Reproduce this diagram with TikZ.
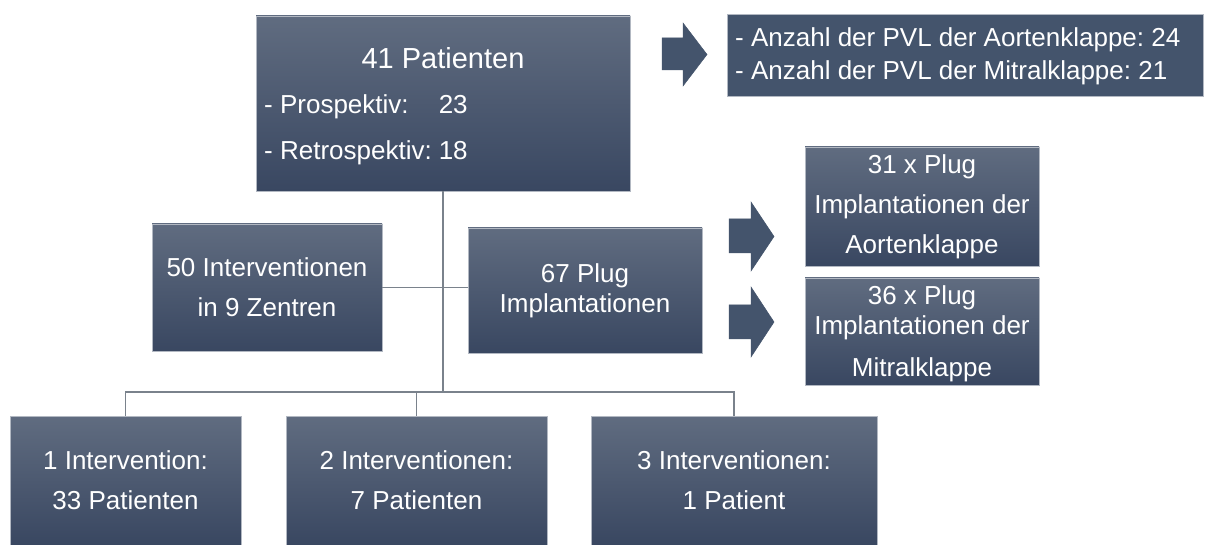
\documentclass[tikz,border=0pt]{standalone}
\usepackage{fontspec}
\setmainfont{Liberation Sans}
\frenchspacing
\definecolor{boxtop}{RGB}{96,108,128}
\definecolor{boxbot}{RGB}{57,71,97}
\definecolor{flat}{RGB}{68,84,108}
\definecolor{edge}{RGB}{178,184,194}
\definecolor{conncol}{RGB}{122,130,140}
\begin{document}
\begin{tikzpicture}[x=1pt,y=-1pt,
  box/.style={draw=edge, line width=0.8pt, top color=boxtop, bottom color=boxbot,
    text=white, font=\fontsize{26}{40}\selectfont, align=center, inner sep=0pt},
  flatbox/.style={draw=edge, line width=0.8pt, fill=flat, inner sep=0pt},
  txt/.style={text=white, inner sep=0pt},
  conn/.style={draw=conncol, line width=1.3pt},
  blockarrow/.style={fill=flat, draw=flat, line width=0.5pt, line join=miter}]
\useasboundingbox[fill=white] (0,0) rectangle (1205,545);

% boxes
\node[box, minimum width=374, minimum height=175] (pat) at (443,103.5) {};
\node[txt, font=\fontsize{29}{29}\selectfont] (ttl) at (443,58) {41 Patienten};
\node[txt, anchor=west, font=\fontsize{26}{46}\selectfont] (pro) at (264,127)
  {\begin{tabular}{@{}l@{\hspace{7pt}}l@{}}- Prospektiv: & 23\\- Retrospektiv: & 18\end{tabular}};

\node[flatbox, minimum width=476, minimum height=82] (pvl) at (965,55) {};
\node[txt, anchor=west, align=left, font=\fontsize{26}{33}\selectfont] (pvlt) at (735,56.5)
  {- Anzahl der PVL der Aortenklappe: 24\\- Anzahl der PVL der Mitralklappe: 21};

\node[box, minimum width=230, minimum height=127] (zen) at (267,287.5)
  {50 Interventionen\\in 9 Zentren};
\node[box, minimum width=234, minimum height=125, font=\fontsize{26}{30}\selectfont] (plug) at (585,290.5)
  {67 Plug\\Implantationen};

\node[box, minimum width=234, minimum height=119] (aor) at (922,206.5)
  {31 x Plug\\Implantationen der\\Aortenklappe};
\node[box, minimum width=234, minimum height=107] (mit) at (922,331.5) {};
\node[txt, font=\fontsize{26}{30}\selectfont, align=center] (mitt) at (922,334)
  {36 x Plug\\Implantationen der\\[12pt]Mitralklappe};

\node[box, minimum width=231, minimum height=129] (b1) at (125.5,480.5)
  {1 Intervention:\\33 Patienten};
\node[box, minimum width=261, minimum height=129] (b2) at (416.5,480.5)
  {2 Interventionen:\\7 Patienten};
\node[box, minimum width=286, minimum height=129] (b3) at (734,480.5)
  {3 Interventionen:\\1 Patient};

% connectors
\coordinate (j2) at (443,392);
\draw[conn] (pat.south) -- (j2);
\draw[conn] (zen.east) -- (zen.east -| plug.west);
\draw[conn] (b1.north) |- (j2) -| (b3.north);
\draw[conn] (b2.north) -- (b2.north |- j2);

% block arrows
\draw[blockarrow] (662,38) -- (683,38) -- (683,23) -- (707,54.5) -- (683,86) -- (683,70) -- (662,70) -- cycle;
\draw[blockarrow] (729,219) -- (751,219) -- (751,202) -- (774,236.5) -- (751,271) -- (751,253) -- (729,253) -- cycle;
\draw[blockarrow] (729,305) -- (751,305) -- (751,287) -- (774,322) -- (751,357) -- (751,339) -- (729,339) -- cycle;
\end{tikzpicture}
\end{document}
